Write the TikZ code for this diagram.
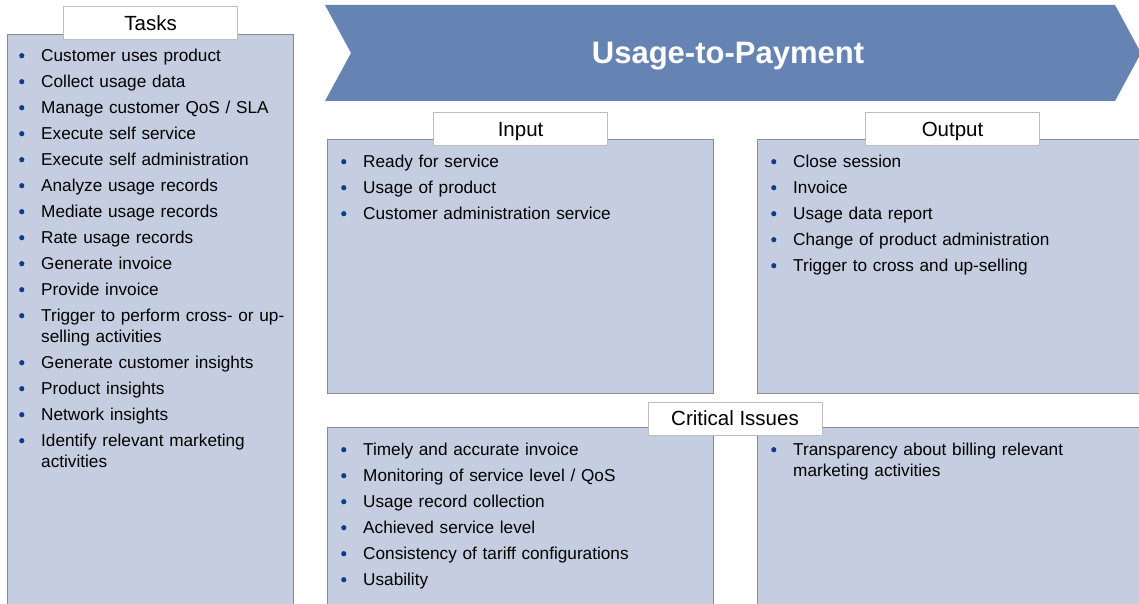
\documentclass[tikz,border=0pt]{standalone}
\usepackage{fontspec}
\setmainfont{Liberation Sans}
\usetikzlibrary{positioning}
\definecolor{panelfill}{HTML}{C4CEE0}
\definecolor{panelline}{HTML}{8C8C8C}
\definecolor{tagline}{HTML}{BEBEBE}
\definecolor{arrowfill}{HTML}{6684B3}
\definecolor{dotblue}{HTML}{0B3C8E}
\newcommand{\bitem}[1]{\par\parskip=5pt\hangindent=22pt\hangafter=1\noindent\strut\makebox[22pt][l]{\tikz[baseline=-5.5pt]\fill[dotblue] (2.8pt,0pt) circle (2.6pt);}#1\par}

\begin{document}
\begin{tikzpicture}[x=1pt, y=-1pt,
panel/.style={rectangle, draw=panelline, line width=1.1pt, fill=panelfill, anchor=north west, inner sep=0pt},
tag/.style={rectangle, draw=tagline, line width=1pt, fill=white, minimum width=174pt,
minimum height=33pt, inner sep=0pt, text height=14.7pt, text depth=0pt,
font=\fontsize{20.5}{24}\selectfont},
items/.style={anchor=north west, inner sep=0pt, text width=320pt, align=left,
font=\fontsize{17.2}{21}\selectfont}
]
\useasboundingbox (0,0) rectangle (1139,604);
\clip (0,0) rectangle (1139,604);

% banner
\fill[arrowfill] (325,5) -- (1115,5) -- (1141,53) -- (1115,101) -- (325,101) -- (351,53) -- cycle;
\node[text=white, font=\fontsize{31}{36}\bfseries\selectfont] (n0) at (728,56) {Usage-to-Payment};

% panels
\node[panel, minimum width=286pt, minimum height=590pt] (n1) at (7,34) {};
\node[panel, minimum width=386pt, minimum height=254pt] (n2) at (327,139) {};
\node[panel, minimum width=390pt, minimum height=254pt] (n3) at (757,139) {};
\node[panel, minimum width=386pt, minimum height=200pt] (n4) at (327,427) {};
\node[panel, minimum width=390pt, minimum height=200pt] (n5) at (757,427) {};

% headings
\node[tag] (l1) at ([yshift=10.5pt]n1.north) {Tasks};
\node[tag] (l2) at ([yshift=9.5pt]n2.north) {Input};
\node[tag] (l3) at ([yshift=9.5pt]n3.north) {Output};
\node[tag] (l4) at (735,418.5) {Critical Issues};

% lists
\node[items] (t1) at (19,35) {
\bitem{Customer uses product}
\bitem{Collect usage data}
\bitem{Manage customer QoS / SLA}
\bitem{Execute self service}
\bitem{Execute self administration}
\bitem{Analyze usage records}
\bitem{Mediate usage records}
\bitem{Rate usage records}
\bitem{Generate invoice}
\bitem{Provide invoice}
\bitem{Trigger to perform cross- or up-\newline selling activities}
\bitem{Generate customer insights}
\bitem{Product insights}
\bitem{Network insights}
\bitem{Identify relevant marketing\newline activities}
};
\node[items] (t2) at (341,141) {
\bitem{Ready for service}
\bitem{Usage of product}
\bitem{Customer administration service}
};
\node[items] (t3) at (771,141) {
\bitem{Close session}
\bitem{Invoice}
\bitem{Usage data report}
\bitem{Change of product administration}
\bitem{Trigger to cross and up-selling}
};
\node[items] (t4) at (341,429) {
\bitem{Timely and accurate invoice}
\bitem{Monitoring of service level / QoS}
\bitem{Usage record collection}
\bitem{Achieved service level}
\bitem{Consistency of tariff configurations}
\bitem{Usability}
};
\node[items] (t5) at (771,429) {
\bitem{Transparency about billing relevant\newline marketing activities}
};
\end{tikzpicture}
\end{document}
